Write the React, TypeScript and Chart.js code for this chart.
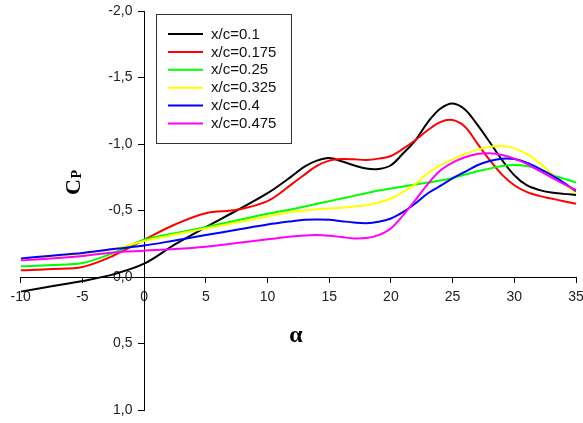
import React, { useEffect, useRef } from "react";
import { Chart, registerables } from "chart.js";

Chart.register(...registerables);

const alpha = [-10, -7.5, -5, -2.5, 0, 2.5, 5, 7.5, 10, 12, 13, 14, 15, 16, 17, 18, 19, 20, 21, 22, 23, 24, 25, 26, 27, 28, 29, 30, 31, 32, 33, 34, 35];

const seriesLabels = ["x/c=0.1", "x/c=0.175", "x/c=0.25", "x/c=0.325", "x/c=0.4", "x/c=0.475"];
const seriesColors = ["#000000", "#ff0000", "#00ff00", "#ffff00", "#0000ff", "#ff00ff"];

const cp010 = [0.11, 0.07, 0.03, -0.02, -0.1, -0.245, -0.375, -0.5, -0.63, -0.76, -0.83, -0.875, -0.895, -0.87, -0.84, -0.815, -0.812, -0.84, -0.93, -1.03, -1.165, -1.265, -1.305, -1.26, -1.145, -1.015, -0.88, -0.765, -0.69, -0.655, -0.635, -0.625, -0.617];
const cp0175 = [-0.05, -0.06, -0.075, -0.16, -0.28, -0.395, -0.48, -0.505, -0.57, -0.7, -0.77, -0.835, -0.875, -0.887, -0.885, -0.88, -0.89, -0.91, -0.965, -1.03, -1.105, -1.165, -1.18, -1.13, -1.005, -0.88, -0.77, -0.69, -0.64, -0.61, -0.59, -0.57, -0.55];
const cp025 = [-0.08, -0.09, -0.105, -0.18, -0.28, -0.33, -0.375, -0.425, -0.475, -0.51, -0.53, -0.55, -0.57, -0.59, -0.61, -0.63, -0.65, -0.665, -0.68, -0.695, -0.71, -0.725, -0.745, -0.77, -0.795, -0.815, -0.835, -0.842, -0.835, -0.81, -0.77, -0.74, -0.71];
const cp0325 = [-0.13, -0.155, -0.175, -0.21, -0.27, -0.32, -0.365, -0.41, -0.455, -0.49, -0.5, -0.51, -0.515, -0.52, -0.53, -0.54, -0.56, -0.59, -0.64, -0.7, -0.78, -0.84, -0.885, -0.925, -0.955, -0.98, -0.985, -0.967, -0.925, -0.86, -0.78, -0.7, -0.63];
const cp040 = [-0.14, -0.16, -0.18, -0.21, -0.236, -0.275, -0.315, -0.355, -0.395, -0.42, -0.43, -0.432, -0.43, -0.42, -0.41, -0.405, -0.415, -0.44, -0.49, -0.555, -0.63, -0.685, -0.742, -0.79, -0.84, -0.872, -0.89, -0.887, -0.86, -0.817, -0.767, -0.71, -0.645];
const cp0475 = [-0.125, -0.14, -0.158, -0.185, -0.198, -0.21, -0.228, -0.255, -0.283, -0.305, -0.312, -0.315, -0.31, -0.3, -0.29, -0.293, -0.315, -0.365, -0.465, -0.58, -0.7, -0.8, -0.86, -0.9, -0.925, -0.93, -0.917, -0.89, -0.85, -0.8, -0.75, -0.7, -0.654];

const seriesValues = [cp010, cp0175, cp025, cp0325, cp040, cp0475];

const xMin = -10;
const xMax = 35;
const xStep = 5;
const yMin = -2;
const yMax = 1;
const yStep = 0.5;

const fmtComma = (v: number) => v.toFixed(1).replace(".", ",").replace("-0,0", "0,0");

const SANS = "'Liberation Sans', Arial, sans-serif";
const SERIF = "'Liberation Serif', 'Times New Roman', serif";

const customPlugin = {
  id: "customDecor",
  afterDraw(chart: any) {
    const ctx = chart.ctx as CanvasRenderingContext2D;
    ctx.save();
    // legend box
    ctx.strokeStyle = "#333";
    ctx.lineWidth = 1;
    ctx.strokeRect(156.5, 14.5, 135, 129);
    ctx.font = `15px ${SANS}`;
    ctx.textBaseline = "middle";
    ctx.textAlign = "left";
    chart.data.datasets.forEach((ds: any, i: number) => {
      const y = 34 + i * 17.9;
      ctx.strokeStyle = ds.borderColor;
      ctx.lineWidth = 2;
      ctx.beginPath();
      ctx.moveTo(168, y);
      ctx.lineTo(203, y);
      ctx.stroke();
      ctx.fillStyle = "#111";
      ctx.fillText(ds.label, 211, y + 0.5);
    });
    // x axis title
    ctx.fillStyle = "#000";
    ctx.font = `bold 24px ${SERIF}`;
    ctx.textAlign = "center";
    ctx.textBaseline = "alphabetic";
    ctx.fillText("α", 296, 342);
    // y axis title C_P
    ctx.translate(80, 195);
    ctx.rotate(-Math.PI / 2);
    ctx.textAlign = "left";
    ctx.font = `bold 22px ${SERIF}`;
    ctx.fillText("C", 0, 0);
    const wC = ctx.measureText("C").width;
    ctx.font = `bold 14px ${SERIF}`;
    ctx.fillText("P", wC + 0.5, 1);
    ctx.restore();
  },
};

const noPad = (scale: any) => {
  scale.paddingLeft = 0;
  scale.paddingRight = 0;
  scale.paddingTop = 0;
  scale.paddingBottom = 0;
};

export default function App() {
  const ref = useRef<HTMLCanvasElement | null>(null);
  useEffect(() => {
    if (!ref.current) return;
    const chart = new Chart(ref.current, {
      type: "line",
      data: {
        datasets: seriesLabels.map((label, i) => ({
          label,
          data: alpha.map((a, j) => ({ x: a, y: seriesValues[i][j] })),
          borderColor: seriesColors[i],
          backgroundColor: seriesColors[i],
          borderWidth: 2,
          pointRadius: 0,
          tension: 0.35,
          fill: false,
          order: seriesLabels.length - i,
        })),
      },
      options: {
        responsive: false,
        animation: false,
        layout: { padding: { left: 20.7, right: 7, top: 11, bottom: 13 } },
        plugins: { legend: { display: false }, tooltip: { enabled: false }, title: { display: false } },
        scales: {
          x: {
            type: "linear",
            min: xMin,
            max: xMax,
            position: { y: 0 } as any,
            afterFit: noPad,
            ticks: {
              stepSize: xStep,
              color: "#222",
              font: { family: SANS, size: 14 },
              padding: 7,
              maxRotation: 0,
              autoSkip: false,
            },
            grid: { display: true, drawOnChartArea: false, drawTicks: true, tickLength: 5, color: "#000" },
            border: { display: true, color: "#000", width: 1 },
          },
          y: {
            type: "linear",
            min: yMin,
            max: yMax,
            reverse: true,
            position: { x: 0 } as any,
            afterFit: noPad,
            ticks: {
              stepSize: yStep,
              color: "#222",
              font: { family: SANS, size: 14 },
              callback: (v: any) => fmtComma(Number(v)) + "   ",
              autoSkip: false,
            },
            grid: { display: true, drawOnChartArea: false, drawTicks: true, tickLength: 6, color: "#000" },
            border: { display: true, color: "#000", width: 1 },
          },
        },
      },
      plugins: [customPlugin],
    });
    return () => chart.destroy();
  }, []);
  return (
    <div style={{ position: "fixed", left: 0, top: 0, width: 583, height: 423, background: "#fff" }}>
      <canvas ref={ref} width={583} height={423} />
    </div>
  );
}
